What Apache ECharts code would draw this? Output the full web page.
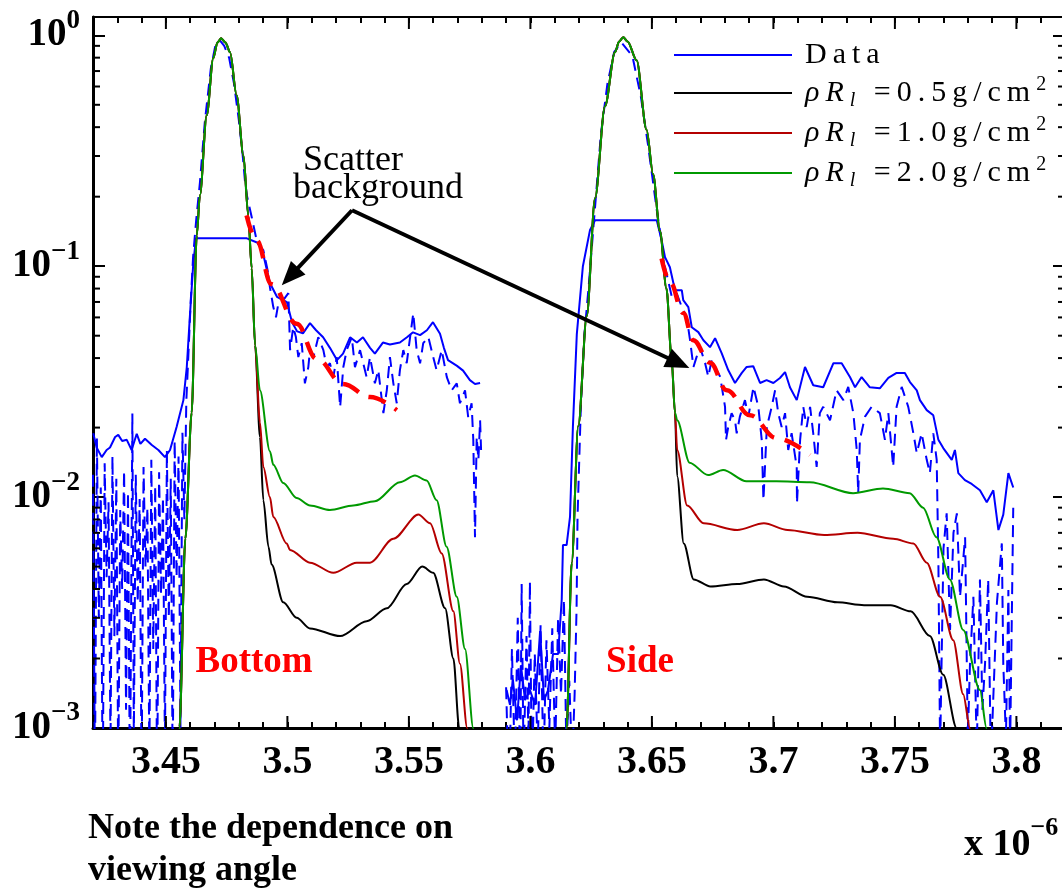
<!DOCTYPE html>
<html><head><meta charset="utf-8">
<script src="https://cdn.jsdelivr.net/npm/echarts@6/dist/echarts.min.js"></script>
<style>html,body{margin:0;padding:0;background:#fff}#c{width:1062px;height:893px}</style>
</head><body><div id="c"></div>
<script>
// ---- axis ranges & ticks ----
const X_MIN = 3.42, X_MAX = 3.82, Y_MIN = 0.001, Y_MAX = 1.2;
const xTickLabels = [3.45, 3.5, 3.55, 3.6, 3.65, 3.7, 3.75, 3.8];

// ---- measured data (solid blue) ----
const dataSolidLeft = [[3.4201,0.0189],[3.4215,0.0164],[3.4236,0.0149],[3.4256,0.0160],[3.4270,0.0164],[3.4291,0.0182],[3.4304,0.0186],[3.4320,0.0175],[3.4339,0.0177],[3.4359,0.0160],[3.4380,0.0188],[3.4395,0.0170],[3.4414,0.0179],[3.4442,0.0168],[3.4469,0.0160],[3.4496,0.0149],[3.4517,0.0160],[3.4544,0.0201],[3.4572,0.0263],[3.4586,0.0366],[3.4599,0.0614],[3.4613,0.104],[3.4624,0.132],[3.4833,0.132],[3.4880,0.126],[3.4901,0.112],[3.4928,0.0845],[3.4957,0.0737],[3.4998,0.0698],[3.5019,0.0572],[3.5040,0.0522],[3.5064,0.0512],[3.5093,0.0567],[3.5118,0.0528],[3.5147,0.0492],[3.5175,0.0443],[3.5204,0.0392],[3.5229,0.0418],[3.5258,0.0492],[3.5286,0.0467],[3.5311,0.0492],[3.5340,0.0443],[3.5360,0.0418],[3.5393,0.0467],[3.5422,0.0458],[3.5463,0.0467],[3.5492,0.0492],[3.5517,0.0517],[3.5546,0.0503],[3.5574,0.0528],[3.5599,0.0572],[3.5628,0.0510],[3.5644,0.0443],[3.5661,0.0392],[3.5698,0.0370],[3.5723,0.0353],[3.5751,0.0321],[3.5772,0.0309],[3.5793,0.0312]];
const dataSolidRight = [[3.5902,0.00146],[3.5916,0.00126],[3.5928,0.00162],[3.5945,0.00108],[3.5961,0.00187],[3.5978,0.00132],[3.5998,0.00146],[3.6019,0.00126],[3.6040,0.00263],[3.6056,0.00132],[3.6072,0.00145],[3.6093,0.00209],[3.6114,0.00209],[3.6129,0.00361],[3.6134,0.0062],[3.6149,0.0062],[3.6163,0.0082],[3.6175,0.0203],[3.6191,0.0508],[3.6216,0.100],[3.6245,0.143],[3.6266,0.158],[3.6520,0.158],[3.6540,0.1296],[3.6554,0.1094],[3.6574,0.0990],[3.6595,0.0787],[3.6623,0.0787],[3.6629,0.0713],[3.6650,0.0665],[3.6664,0.0544],[3.6691,0.0518],[3.6712,0.0478],[3.6739,0.0446],[3.6760,0.0488],[3.6787,0.0420],[3.6814,0.0355],[3.6842,0.0312],[3.6870,0.0345],[3.6890,0.0366],[3.6917,0.0369],[3.6945,0.0312],[3.6972,0.0321],[3.7000,0.0312],[3.7027,0.0328],[3.7048,0.0348],[3.7068,0.0299],[3.7096,0.0263],[3.7130,0.0366],[3.7164,0.0305],[3.7205,0.0299],[3.7247,0.0380],[3.7281,0.0380],[3.7315,0.0331],[3.7336,0.0299],[3.7363,0.0331],[3.7397,0.0299],[3.7438,0.0296],[3.7473,0.0328],[3.7507,0.0345],[3.7541,0.0345],[3.7562,0.0315],[3.7590,0.0290],[3.7603,0.0263],[3.7631,0.0238],[3.7658,0.0226],[3.7679,0.0177],[3.7699,0.0163],[3.7734,0.0145],[3.7747,0.0160],[3.7761,0.0127],[3.7788,0.01185],[3.7816,0.0114],[3.7850,0.0107],[3.7878,0.0095],[3.7905,0.0107],[3.7926,0.0072],[3.7946,0.0084],[3.7967,0.0127],[3.7987,0.0110]];

// ---- measured data (dashed blue) ----
const dataDashLeft = [[3.4200,0.0125],[3.4208,0.0006],[3.4216,0.0180],[3.4224,0.0030],[3.4232,0.0110],[3.4240,0.0005],[3.4248,0.0140],[3.4256,0.0045],[3.4264,0.0095],[3.4272,0.0008],[3.4280,0.0150],[3.4288,0.0025],[3.4296,0.0120],[3.4304,0.0006],[3.4312,0.0088],[3.4320,0.0040],[3.4328,0.0130],[3.4336,0.0012],[3.4344,0.0105],[3.4352,0.0005],[3.4362,0.0230],[3.4368,0.0009],[3.4376,0.0125],[3.4384,0.0035],[3.4392,0.0098],[3.4400,0.0006],[3.4408,0.0135],[3.4416,0.0050],[3.4424,0.0090],[3.4432,0.0007],[3.4440,0.0145],[3.4448,0.0022],[3.4456,0.0112],[3.4464,0.0005],[3.4472,0.0128],[3.4480,0.0038],[3.4488,0.0100],[3.4496,0.0008],[3.4504,0.0160],[3.4512,0.0030],[3.4520,0.0120],[3.4528,0.0006],[3.4536,0.0175],[3.4544,0.0045],[3.4552,0.0150],[3.4560,0.0010],[3.4568,0.0190],[3.4576,0.0080],[3.4584,0.0260],[3.4592,0.0400],[3.4602,0.0700],[3.4612,0.110],[3.4625,0.160],[3.4640,0.230],[3.4660,0.420],[3.4685,0.720],[3.4705,0.920],[3.4722,0.950],[3.4740,0.900],[3.4760,0.800],[3.4780,0.620],[3.4800,0.430],[3.4815,0.310],[3.4826,0.230],[3.4833,0.203],[3.4853,0.1634],[3.4876,0.1258],[3.4901,0.1173],[3.4921,0.0932],[3.4928,0.0811],[3.4942,0.0665],[3.4953,0.0601],[3.4963,0.0692],[3.4983,0.0713],[3.5004,0.0764],[3.5011,0.0433],[3.5024,0.0545],[3.5035,0.0493],[3.5045,0.0404],[3.5059,0.0464],[3.5072,0.0311],[3.5086,0.0365],[3.5093,0.0433],[3.5107,0.0404],[3.5127,0.0493],[3.5148,0.0433],[3.5162,0.0365],[3.5175,0.0380],[3.5189,0.0331],[3.5203,0.0404],[3.5217,0.0245],[3.5230,0.0365],[3.5244,0.0433],[3.5265,0.0493],[3.5278,0.0365],[3.5299,0.0433],[3.5312,0.0380],[3.5326,0.0331],[3.5340,0.0404],[3.5360,0.0311],[3.5374,0.0355],[3.5395,0.0231],[3.5409,0.0290],[3.5422,0.0404],[3.5436,0.0311],[3.5450,0.0255],[3.5463,0.0355],[3.5477,0.0433],[3.5491,0.0380],[3.5505,0.0493],[3.5518,0.0626],[3.5532,0.0433],[3.5546,0.0380],[3.5559,0.0464],[3.5580,0.0493],[3.5600,0.0404],[3.5614,0.0355],[3.5635,0.0433],[3.5656,0.0331],[3.5676,0.0290],[3.5697,0.0311],[3.5710,0.0255],[3.5731,0.0290],[3.5744,0.0222],[3.5758,0.0255],[3.5765,0.0177],[3.5772,0.0067],[3.5779,0.0182],[3.5786,0.0145],[3.5793,0.0215],[3.5797,0.0160]];
const dataDashRight = [[3.5900,0.0015],[3.5912,0.0005],[3.5924,0.0022],[3.5936,0.0007],[3.5948,0.0030],[3.5958,0.0006],[3.5964,0.0042],[3.5972,0.0007],[3.5984,0.0025],[3.5992,0.0009],[3.5998,0.0043],[3.6006,0.0006],[3.6018,0.0021],[3.6030,0.0008],[3.6042,0.0028],[3.6054,0.0007],[3.6066,0.0024],[3.6078,0.0010],[3.6090,0.0027],[3.6102,0.0008],[3.6114,0.0030],[3.6126,0.0014],[3.6138,0.0036],[3.6148,0.0008],[3.6160,0.0016],[3.6172,0.0007],[3.6182,0.0014],[3.6190,0.0033],[3.6194,0.0082],[3.6208,0.0255],[3.6222,0.0503],[3.6242,0.087],[3.6269,0.197],[3.6290,0.373],[3.6317,0.617],[3.6345,0.848],[3.6375,0.93],[3.6420,0.811],[3.6455,0.539],[3.6483,0.341],[3.6503,0.238],[3.6520,0.175],[3.6535,0.139],[3.6554,0.0993],[3.6582,0.0736],[3.6602,0.0762],[3.6623,0.0666],[3.6643,0.0603],[3.6657,0.0478],[3.6671,0.0366],[3.6684,0.0405],[3.6698,0.0447],[3.6719,0.0380],[3.6732,0.0332],[3.6746,0.0392],[3.6760,0.0366],[3.6781,0.0332],[3.6801,0.0246],[3.6805,0.0177],[3.6814,0.0201],[3.6828,0.0231],[3.6842,0.0215],[3.6849,0.0189],[3.6862,0.0223],[3.6883,0.0263],[3.6897,0.0223],[3.6918,0.0300],[3.6938,0.0246],[3.6952,0.0177],[3.6959,0.0097],[3.6973,0.0201],[3.6993,0.0246],[3.7007,0.0290],[3.7020,0.0231],[3.7034,0.0201],[3.7048,0.0231],[3.7061,0.0160],[3.7075,0.0189],[3.7096,0.0135],[3.7097,0.0094],[3.7110,0.0177],[3.7123,0.0246],[3.7137,0.0201],[3.7151,0.0246],[3.7164,0.0189],[3.7178,0.0135],[3.7191,0.0231],[3.7205,0.0246],[3.7233,0.0215],[3.7260,0.0290],[3.7288,0.0263],[3.7308,0.0300],[3.7329,0.0231],[3.7343,0.0160],[3.7349,0.0104],[3.7356,0.0177],[3.7377,0.0223],[3.7404,0.0246],[3.7438,0.0231],[3.7459,0.0177],[3.7473,0.0231],[3.7493,0.0135],[3.7507,0.0246],[3.7528,0.0300],[3.7555,0.0246],[3.7576,0.0189],[3.7590,0.0155],[3.7610,0.0189],[3.7631,0.0145],[3.7644,0.0127],[3.7658,0.0189],[3.7672,0.0145],[3.7679,0.0052],[3.7686,0.0008],[3.7700,0.0060],[3.7713,0.0085],[3.7727,0.00266],[3.7741,0.0070],[3.7755,0.0085],[3.7768,0.0037],[3.7789,0.0067],[3.7800,0.0009],[3.7809,0.0019],[3.7823,0.0037],[3.7837,0.0008],[3.7850,0.0044],[3.7860,0.0012],[3.7871,0.0019],[3.7884,0.0044],[3.7895,0.0007],[3.7905,0.00136],[3.7920,0.0035],[3.7940,0.0063],[3.7946,0.0019],[3.7957,0.0009],[3.7967,0.00396],[3.7974,0.0008],[3.7987,0.0090]];

// ---- model curves: shared peak cores + per-model tails ----
const peakLeftCore = [[3.4550,0.0007],[3.4556,0.00101],[3.4580,0.0066],[3.4606,0.0232],[3.4627,0.136],[3.4640,0.203],[3.4668,0.450],[3.4695,0.795],[3.4712,0.93],[3.4727,0.97],[3.4745,0.93],[3.4764,0.844],[3.4791,0.550],[3.4819,0.302],[3.4839,0.166],[3.4853,0.098],[3.4867,0.0455]];
const peakRightCore = [[3.6145,0.0007],[3.6149,0.0010],[3.6170,0.0052],[3.6197,0.0203],[3.6232,0.0608],[3.6266,0.197],[3.6307,0.493],[3.6348,0.844],[3.6365,0.94],[3.6382,0.98],[3.6400,0.94],[3.6437,0.78],[3.6478,0.39],[3.6505,0.25],[3.6533,0.142],[3.6560,0.080],[3.6581,0.0398],[3.6595,0.0232]];
const m05LeftTail = [[3.4887,0.0182],[3.4901,0.0097],[3.4922,0.0061],[3.4935,0.0051],[3.4983,0.0035],[3.5038,0.0030],[3.5093,0.0027],[3.5217,0.0025],[3.5326,0.0029],[3.5409,0.0033],[3.5491,0.0042],[3.5555,0.0050],[3.5600,0.0047],[3.5649,0.0033],[3.5683,0.0020],[3.5707,0.0010],[3.5715,0.0007]];
const m10LeftTail = [[3.4887,0.0211],[3.4901,0.0135],[3.4928,0.0100],[3.4942,0.0082],[3.4997,0.0063],[3.5011,0.0059],[3.5093,0.0052],[3.5189,0.0047],[3.5285,0.0052],[3.5340,0.0052],[3.5436,0.0066],[3.5539,0.0084],[3.5587,0.0077],[3.5635,0.0057],[3.5683,0.0032],[3.5710,0.0019],[3.5740,0.0010],[3.5748,0.0007]];
const m20LeftTail = [[3.4887,0.029],[3.4928,0.0158],[3.4942,0.0138],[3.4983,0.0115],[3.5038,0.0099],[3.5093,0.0092],[3.5175,0.0088],[3.5271,0.0092],[3.5360,0.0096],[3.5463,0.0116],[3.5525,0.0124],[3.5573,0.0118],[3.5614,0.0097],[3.5655,0.0061],[3.5697,0.0037],[3.5731,0.0022],[3.5765,0.0010],[3.5772,0.0007]];
const m05RightTail = [[3.6604,0.0123],[3.6631,0.0063],[3.6672,0.0044],[3.6741,0.0041],[3.6851,0.0042],[3.6961,0.0044],[3.7043,0.0041],[3.7139,0.0037],[3.7263,0.0035],[3.7373,0.0034],[3.7483,0.0034],[3.7565,0.0032],[3.7644,0.0025],[3.7699,0.0017],[3.7754,0.0010],[3.7760,0.0007]];
const m10RightTail = [[3.6604,0.016],[3.6645,0.0092],[3.6713,0.0077],[3.6851,0.0072],[3.6961,0.0077],[3.7058,0.0072],[3.7209,0.00685],[3.7346,0.0070],[3.7493,0.0066],[3.7576,0.0063],[3.7631,0.0052],[3.7686,0.0037],[3.7740,0.0024],[3.7781,0.0014],[3.7809,0.0010],[3.7815,0.0007]];
const m20RightTail = [[3.6604,0.0215],[3.6655,0.0141],[3.6731,0.01245],[3.6793,0.0131],[3.6889,0.0117],[3.7012,0.0117],[3.7150,0.0116],[3.7328,0.0104],[3.7451,0.0109],[3.7561,0.0104],[3.7616,0.0090],[3.7671,0.0067],[3.7726,0.0044],[3.7781,0.00266],[3.7850,0.00146],[3.7877,0.0010],[3.7885,0.0007]];

// ---- scatter background estimate (red dashed) ----
const bgLeft = [[3.4832,0.166],[3.4873,0.1296],[3.4935,0.0835],[3.5038,0.0563],[3.5120,0.0397],[3.5230,0.0309],[3.5340,0.0271],[3.5450,0.0238]];
const bgRight = [[3.6540,0.108],[3.6574,0.0856],[3.6629,0.0627],[3.6670,0.0478],[3.6739,0.0382],[3.6808,0.0290],[3.6904,0.0226],[3.7013,0.0180],[3.7150,0.0152]];

// ---- annotation anchors (data coords) ----
const arrowStart = [3.5266, 0.1747];
const arrowTips = [[3.4977, 0.0827], [3.6654, 0.0362]];
const scatterLine1At = [3.5064, 0.2877];
const scatterLine2At = [3.5023, 0.2177];
const bottomLabelAt = [3.4863, 0.00193];
const sideLabelAt = [3.6451, 0.00193];

const BLUE = '#0000FF', BLACK = '#000000', RED = '#B40000', GREEN = '#009900';
const FONT = 'Liberation Serif';
const LFONT = 'Liberation Serif';

const yMinorTicks = [];
for (let k = -3; k <= 0; k++) for (let m = 2; m <= 9; m++) { const v = m * Math.pow(10, k); if (v < Y_MAX) yMinorTicks.push(+v.toPrecision(3)); }

function lineSeries(name, data, color, width, dashed, smooth) {
  return { type: 'line', name, data, showSymbol: false, symbol: 'none', silent: true, animation: false,
    smooth: smooth || false, smoothMonotone: 'x',
    itemStyle: { color }, lineStyle: { color, width, type: dashed || 'solid' }, clip: true };
}
function spaced(style, s) { return Array.from(s).map(c => '{' + style + '|' + c + '}').join(''); }
const names = ['Data', 'rho05', 'rho10', 'rho20'];
const legendText = {
  Data: '{pad|}' + spaced('r', 'Data'),
  rho05: '{pad|}' + spaced('i', 'ρR') + '{sub|l}' + spaced('r', ' =0.5g/cm') + '{sup|2}',
  rho10: '{pad|}' + spaced('i', 'ρR') + '{sub|l}' + spaced('r', ' =1.0g/cm') + '{sup|2}',
  rho20: '{pad|}' + spaced('i', 'ρR') + '{sub|l}' + spaced('r', ' =2.0g/cm') + '{sup|2}'
};
const legendRows = [58, 93, 133, 173];
const legendRich = {
  pad: { width: 8 },
  r: { fontFamily: LFONT, fontSize: 30, color: '#000', padding: [0, 6, 0, 0], lineHeight: 36 },
  i: { fontFamily: LFONT, fontSize: 30, fontStyle: 'italic', color: '#000', padding: [0, 6, 0, 0], lineHeight: 36 },
  sub: { fontFamily: LFONT, fontSize: 20, fontStyle: 'italic', color: '#000', lineHeight: 24, verticalAlign: 'bottom', padding: [0, 5, 0, 0] },
  sup: { fontFamily: LFONT, fontSize: 20, color: '#000', lineHeight: 18, verticalAlign: 'top' }
};

const chart = echarts.init(document.getElementById('c'), null, { renderer: 'canvas' });
const tickLine = (x1, y1, x2, y2) => ({ type: 'line', shape: { x1, y1, x2, y2 }, style: { stroke: '#000', lineWidth: 2 } });

const option = {
  backgroundColor: '#fff',
  animation: false,
  grid: { left: 93, top: 17, width: 972, height: 711, containLabel: false, outerBoundsMode: 'none' },
  legend: names.map((n, i) => ({
    data: [n], left: 674, top: legendRows[i] - 18, orient: 'vertical', icon: 'rect', itemWidth: 118, itemHeight: 2,
    padding: 0, selectedMode: false, formatter: nm => legendText[nm],
    textStyle: { color: '#000', fontFamily: LFONT, fontSize: 30, rich: legendRich }
  })),
  xAxis: [
    { type: 'value', min: X_MIN, max: X_MAX, interval: 0.01, position: 'bottom',
      axisLine: { show: true, onZero: false, lineStyle: { color: '#000', width: 3 } },
      axisTick: { show: true, inside: true, length: 6, lineStyle: { color: '#000', width: 2 } },
      splitLine: { show: false },
      axisLabel: { color: '#000', fontFamily: FONT, fontWeight: 'bold', fontSize: 40, margin: 15,
        formatter: v => { const c = Math.round(v * 100); return c % 5 === 0 ? String(+(c / 100).toFixed(2)) : ''; } } },
    { type: 'value', min: X_MIN, max: X_MAX, interval: 0.01, position: 'top',
      axisLine: { show: true, onZero: false, lineStyle: { color: '#000', width: 2 } },
      axisTick: { show: true, inside: true, length: 6, lineStyle: { color: '#000', width: 2 } },
      splitLine: { show: false }, axisLabel: { show: false } }
  ],
  yAxis: [
    { type: 'log', logBase: 10, min: Y_MIN, max: Y_MAX, position: 'left',
      axisLine: { show: true, onZero: false, lineStyle: { color: '#000', width: 3 } },
      axisTick: { show: true, inside: true, length: 12, lineStyle: { color: '#000', width: 2 } },
      splitLine: { show: false }, minorTick: { show: false },
      axisLabel: { margin: 13,
        formatter: v => { const e = Math.log10(v), r = Math.round(e); if (Math.abs(e - r) > 1e-6) return ''; return '{b|10}{s|' + (r < 0 ? '\u2212' + (-r) : String(r)) + '}'; },
        rich: { b: { fontFamily: FONT, fontWeight: 'bold', fontSize: 39, color: '#000', lineHeight: 56 },
                s: { fontFamily: FONT, fontWeight: 'bold', fontSize: 27, color: '#000', lineHeight: 24, verticalAlign: 'top' } } } },
    { type: 'log', logBase: 10, min: Y_MIN, max: Y_MAX, position: 'right',
      axisLine: { show: true, onZero: false, lineStyle: { color: '#000', width: 3 } },
      axisTick: { show: true, inside: true, length: 12, lineStyle: { color: '#000', width: 2 } },
      splitLine: { show: false }, axisLabel: { show: false } }
  ],
  series: [
    lineSeries('DataDashed', dataDashLeft, BLUE, 2, [12, 7]),
    lineSeries('DataDashed', dataDashRight, BLUE, 2, [12, 7]),
    lineSeries('Data', dataSolidLeft, BLUE, 2),
    lineSeries('Data', dataSolidRight, BLUE, 2),
    lineSeries('rho05', peakLeftCore.concat(m05LeftTail), BLACK, 2, null, 0.3),
    lineSeries('rho05', peakRightCore.concat(m05RightTail), BLACK, 2, null, 0.3),
    lineSeries('rho10', peakLeftCore.concat(m10LeftTail), RED, 2, null, 0.3),
    lineSeries('rho10', peakRightCore.concat(m10RightTail), RED, 2, null, 0.3),
    lineSeries('rho20', peakLeftCore.concat(m20LeftTail), GREEN, 2, null, 0.3),
    lineSeries('rho20', peakRightCore.concat(m20RightTail), GREEN, 2, null, 0.3),
    lineSeries('bg', bgLeft, '#FF0000', 4.5, [18, 11], 0.4),
    lineSeries('bg', bgRight, '#FF0000', 4.5, [18, 11], 0.4),
    { type: 'custom', name: 'yMinor', silent: true, clip: false, z: 10, animation: false,
      data: yMinorTicks.map(v => [X_MIN, v]),
      renderItem: (p, api) => { const v = api.value(1); const a = api.coord([X_MIN, v]); const b = api.coord([X_MAX, v]);
        return { type: 'group', children: [tickLine(a[0], a[1], a[0] + 7, a[1]), tickLine(b[0], b[1], b[0] - 7, b[1])] }; } },
    { type: 'custom', name: 'xMajor', silent: true, clip: false, z: 10, animation: false,
      data: xTickLabels.map(v => [v, Y_MIN]),
      renderItem: (p, api) => { const v = api.value(0); const a = api.coord([v, Y_MIN]); const t = api.coord([v, Y_MAX]);
        return { type: 'group', children: [tickLine(a[0], a[1], a[0], a[1] - 12), tickLine(t[0], t[1], t[0], t[1] + 12)] }; } }
  ]
};
chart.setOption(option);

// ---- annotations ----
const toPx = p => chart.convertToPixel({ gridIndex: 0 }, p);
const S = toPx(arrowStart);
const g = [];
arrowTips.forEach(tp => {
  const T = toPx(tp); const dx = T[0] - S[0], dy = T[1] - S[1]; const L = Math.hypot(dx, dy); const ux = dx / L, uy = dy / L;
  const hl = 24, hw = 10; const bx = T[0] - ux * hl, by = T[1] - uy * hl;
  g.push({ type: 'line', shape: { x1: S[0], y1: S[1], x2: bx + ux * 2, y2: by + uy * 2 }, style: { stroke: '#000', lineWidth: 4 }, z: 20 });
  g.push({ type: 'polygon', shape: { points: [[T[0], T[1]], [bx - uy * hw, by + ux * hw], [bx + uy * hw, by - ux * hw]] }, style: { fill: '#000' }, z: 20 });
});
const s1 = toPx(scatterLine1At), s2 = toPx(scatterLine2At);
g.push({ type: 'text', x: s1[0], y: s1[1], z: 20, style: { text: 'Scatter', fill: '#000', fontFamily: FONT, fontSize: 36, align: 'left', verticalAlign: 'middle' } });
g.push({ type: 'text', x: s2[0], y: s2[1], z: 20, style: { text: 'background', fill: '#000', fontFamily: FONT, fontSize: 36, align: 'left', verticalAlign: 'middle' } });
const bl = toPx(bottomLabelAt), sd = toPx(sideLabelAt);
g.push({ type: 'text', x: bl[0], y: bl[1], z: 20, style: { text: 'Bottom', fill: '#FF0000', fontFamily: FONT, fontWeight: 'bold', fontSize: 37, align: 'center', verticalAlign: 'middle' } });
g.push({ type: 'text', x: sd[0], y: sd[1], z: 20, style: { text: 'Side', fill: '#FF0000', fontFamily: FONT, fontWeight: 'bold', fontSize: 37, align: 'center', verticalAlign: 'middle' } });
g.push({ type: 'text', x: 88, y: 808, z: 20, style: { text: 'Note the dependence on\nviewing angle', fill: '#000', fontFamily: FONT, fontWeight: 'bold', fontSize: 36, lineHeight: 42, align: 'left', verticalAlign: 'top' } });
g.push({ type: 'text', x: 964, y: 845, z: 20, style: { text: '{b|x 10}{s|\u22126}', align: 'left', verticalAlign: 'middle',
  rich: { b: { fontFamily: FONT, fontWeight: 'bold', fontSize: 38, fill: '#000', color: '#000', lineHeight: 60 },
          s: { fontFamily: FONT, fontWeight: 'bold', fontSize: 26, fill: '#000', color: '#000', lineHeight: 14, verticalAlign: 'top' } } } });
chart.setOption({ graphic: { elements: g } });
</script></body></html>
